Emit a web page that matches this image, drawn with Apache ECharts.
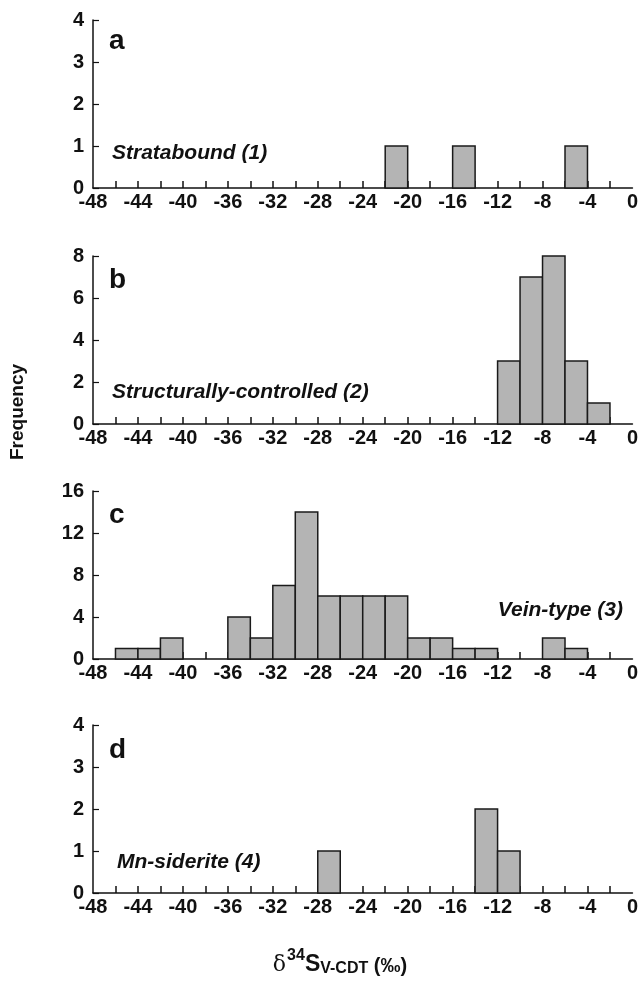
<!DOCTYPE html>
<html>
<head>
<meta charset="utf-8">
<script src="https://cdn.jsdelivr.net/npm/echarts@6/dist/echarts.min.js"></script>
<style>
  html, body { margin: 0; padding: 0; background: #fff; }
  #main { width: 641px; height: 982px; }
</style>
</head>
<body>
<div id="main"></div>
<script>
// bin left edges, 2 permil wide, from -48 to -2
var binStarts = [];
for (var b = -48; b < 0; b += 2) binStarts.push(b);

// counts per bin (index 0 = [-48,-46])
var stratabound = [0,0,0,0,0,0,0,0,0,0,0,0,0,1,0,0,1,0,0,0,0,1,0,0];
var structural  = [0,0,0,0,0,0,0,0,0,0,0,0,0,0,0,0,0,0,3,7,8,3,1,0];
var veinType    = [0,1,1,2,0,0,4,2,7,14,6,6,6,6,2,2,1,1,0,0,2,1,0,0];
var mnSiderite  = [0,0,0,0,0,0,0,0,0,0,1,0,0,0,0,0,0,2,1,0,0,0,0,0];

var yMax = [4, 8, 16, 4];
var yStep = [1, 2, 4, 1];
var panelLetters = ['a', 'b', 'c', 'd'];
var panelNames = ['Stratabound (1)', 'Structurally-controlled (2)', 'Vein-type (3)', 'Mn-siderite (4)'];

var chart = echarts.init(document.getElementById('main'));
var font = 'Liberation Sans, Arial, sans-serif';

var gridTops = [20, 256, 491, 725];
var gridH = 168;
var allData = [stratabound, structural, veinType, mnSiderite];

var grids = [], xAxes = [], yAxes = [], series = [];
allData.forEach(function (arr, i) {
  grids.push({ left: 93, top: gridTops[i], width: 540, height: gridH });
  xAxes.push({
    type: 'value', gridIndex: i, min: -48, max: 0, interval: 2,
    axisLine: { lineStyle: { color: '#111', width: 1.5 } },
    // inner ticks on every bin edge, none at the two ends
    axisTick: { show: true, inside: true, length: 7, customValues: binStarts.slice(1),
                lineStyle: { color: '#111', width: 1.5 } },
    splitLine: { show: false },
    axisLabel: {
      margin: 4, color: '#111', fontSize: 20, fontWeight: 'bold', fontFamily: font,
      formatter: function (v) { return (v % 4 === 0) ? String(v) : ''; }
    }
  });
  yAxes.push({
    type: 'value', gridIndex: i, min: 0, max: yMax[i], interval: yStep[i],
    axisLine: { show: true, onZero: false, lineStyle: { color: '#111', width: 1.5 } },
    axisTick: { show: true, inside: true, length: 6, lineStyle: { color: '#111', width: 1.2 } },
    splitLine: { show: false },
    axisLabel: { margin: 9, color: '#111', fontSize: 20, fontWeight: 'bold', fontFamily: font }
  });
  var data = [];
  arr.forEach(function (c, k) { if (c > 0) data.push([binStarts[k], c]); });
  series.push({
    type: 'custom', xAxisIndex: i, yAxisIndex: i,
    data: data,
    renderItem: function (params, api) {
      var x0 = api.value(0), n = api.value(1);
      var p0 = api.coord([x0, 0]);
      var p1 = api.coord([x0 + 2, n]);
      return {
        type: 'rect',
        shape: { x: p0[0], y: p1[1], width: p1[0] - p0[0], height: p0[1] - p1[1] },
        style: { fill: '#b4b4b4', stroke: '#1a1a1a', lineWidth: 1.5 }
      };
    }
  });
});

var letterY = [41, 280, 515, 750];
var nameSpec = [
  { left: 112, y: 153, align: 'left' },
  { left: 112, y: 392, align: 'left' },
  { left: 623, y: 610, align: 'right' },
  { left: 117, y: 862, align: 'left' }
];

var graphics = [];
panelLetters.forEach(function (l, i) {
  graphics.push({
    type: 'text', x: 109, y: letterY[i],
    style: { text: l, font: 'bold 28px ' + font, fill: '#111', verticalAlign: 'middle' }
  });
  graphics.push({
    type: 'text', x: nameSpec[i].left, y: nameSpec[i].y,
    style: { text: panelNames[i], font: 'italic bold 21px ' + font, fill: '#111',
             verticalAlign: 'middle', align: nameSpec[i].align }
  });
});
graphics.push({
  type: 'text', x: 18, y: 412, rotation: Math.PI / 2,
  style: { text: 'Frequency', font: 'bold 19px ' + font, fill: '#111', align: 'center', verticalAlign: 'middle' }
});
graphics.push({
  type: 'text', x: 340, y: 962,
  style: {
    text: '{d|δ}{sup|34}{s|S}{sub|V-CDT}{p| (‰)}',
    align: 'center', verticalAlign: 'middle',
    rich: {
      d: { font: '22px DejaVu Serif, serif', fill: '#111', verticalAlign: 'bottom' },
      sup: { font: 'bold 16px ' + font, fill: '#111', padding: [0, 0, 13, 1], verticalAlign: 'bottom' },
      s: { font: 'bold 23px ' + font, fill: '#111', verticalAlign: 'bottom' },
      sub: { font: 'bold 16px ' + font, fill: '#111', verticalAlign: 'bottom' },
      p: { font: 'bold 20px ' + font, fill: '#111', verticalAlign: 'bottom' }
    }
  }
});

chart.setOption({
  animation: false,
  grid: grids,
  xAxis: xAxes,
  yAxis: yAxes,
  series: series,
  graphic: graphics
});
</script>
</body>
</html>
